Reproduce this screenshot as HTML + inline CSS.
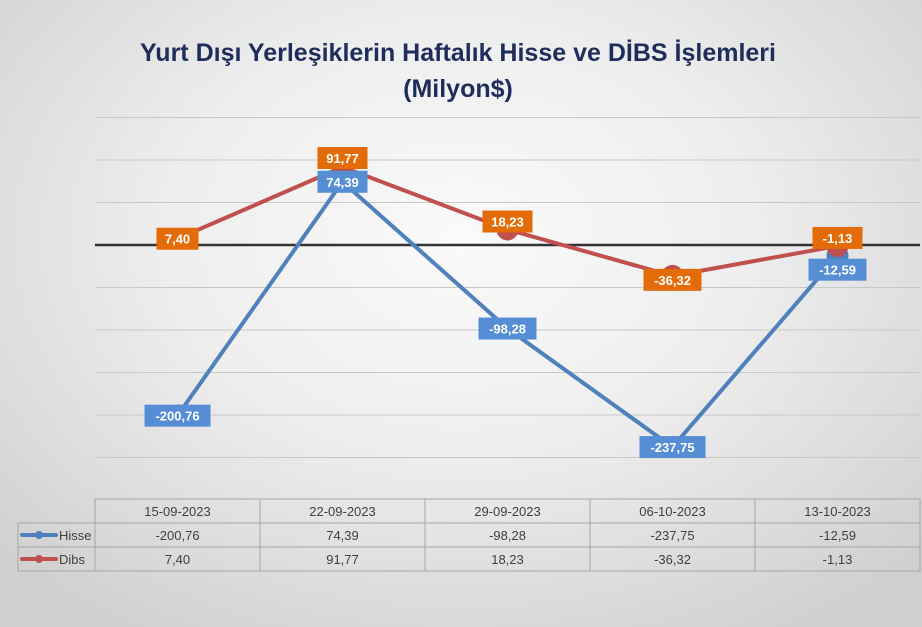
<!DOCTYPE html>
<html><head><meta charset="utf-8">
<style>
html,body{margin:0;padding:0}
body{width:922px;height:627px;overflow:hidden;font-family:"Liberation Sans",sans-serif;
background:radial-gradient(ellipse 70% 75% at 50% 38%,#fafafa 0%,#eeeeee 45%,#cfcfcf 100%);}
svg{display:block}
</style></head>
<body>
<svg width="922" height="627" xmlns="http://www.w3.org/2000/svg" id="chart">
<text x="458" y="61" text-anchor="middle" font-family="Liberation Sans, sans-serif" font-weight="bold" font-size="25" fill="#1f2d5c">Yurt Dışı Yerleşiklerin Haftalık Hisse ve DİBS İşlemleri</text>
<text x="458" y="97" text-anchor="middle" font-family="Liberation Sans, sans-serif" font-weight="bold" font-size="25" fill="#1f2d5c">(Milyon$)</text>
<g id="grid"></g><g id="lines"></g><g id="labels"></g><g id="table"></g>
</svg>
<script>
const categories=["15-09-2023","22-09-2023","29-09-2023","06-10-2023","13-10-2023"];
const hisse=[-200.76,74.39,-98.28,-237.75,-12.59];
const dibs=[7.40,91.77,18.23,-36.32,-1.13];
const gridTicks=[150,100,50,0,-50,-100,-150,-200,-250];
const NS="http://www.w3.org/2000/svg";
const x0=95,x1=920,bw=(x1-x0)/categories.length;
const xs=i=>x0+bw*(i+0.5);
const ys=v=>245-v*0.85;
function mk(t,a,p){const e=document.createElementNS(NS,t);for(const k in a)e.setAttribute(k,a[k]);p.appendChild(e);return e;}
const fmt=v=>v.toFixed(2).replace('.',',');
const g=document.getElementById('grid');
gridTicks.forEach(t=>{const l=mk('line',{x1:x0,x2:x1,y1:ys(t),y2:ys(t),stroke:t===0?'#333':'#c8c8c8','stroke-width':t===0?2.5:1},g);

});
const L=document.getElementById('lines'),Lb=document.getElementById('labels');
function series(vals,color,lblColor,name,offs){
 const pl=mk('polyline',{points:vals.map((v,i)=>xs(i)+','+ys(v)).join(' '),fill:'none',stroke:color,'stroke-width':4,'stroke-linejoin':'round'},L);
 
 
 vals.forEach((v,i)=>{
  const c=mk('circle',{cx:xs(i),cy:ys(v),r:11,fill:color},L);
  
  
  const s=fmt(v),w=s.length*8+10,cy=ys(v)+(offs[i]||0);
  const r=mk('rect',{x:xs(i)-w/2,y:cy-11,width:w,height:22,fill:lblColor},Lb);
  
  
  const t=mk('text',{x:xs(i),y:cy+5,'text-anchor':'middle','font-size':13,'font-weight':'bold',fill:'#fff'},Lb);
  t.textContent=s;
  
  
 });
}
series(hisse,'#4f81bd','#558ed5','hisse',[0,0,0,0,14]);
series(dibs,'#c0504d','#e36c09','dibs',[0,-9,-8,4,-8]);
const T=document.getElementById('table');
const tableTop=499,rh=24;
function cell(x,y,w,h){const r=mk('rect',{x,y,width:w,height:h,fill:'none',stroke:'#a6a6a6','stroke-width':1},T);
}
function txt(x,y,s,anchor){const t=mk('text',{x,y,'text-anchor':anchor||'middle','font-size':13,fill:'#404040'},T);t.textContent=s;
}
categories.forEach((c,i)=>{cell(x0+bw*i,tableTop,bw,rh);txt(xs(i),tableTop+17,c);
 cell(x0+bw*i,tableTop+rh,bw,rh);txt(xs(i),tableTop+rh+17,fmt(hisse[i]));
 cell(x0+bw*i,tableTop+2*rh,bw,rh);txt(xs(i),tableTop+2*rh+17,fmt(dibs[i]));});
cell(18,tableTop+rh,77,rh);cell(18,tableTop+2*rh,77,rh);
[['Hisse','#4f81bd',tableTop+rh],['Dibs','#c0504d',tableTop+2*rh]].forEach(([n,col,y])=>{
 const l=mk('line',{x1:22,x2:56,y1:y+12,y2:y+12,stroke:col,'stroke-width':4,'stroke-linecap':'round'},T);
 
 const c=mk('circle',{cx:39,cy:y+12,r:4,fill:col},T);
 
 txt(59,y+17,n,'start');});
</script>
</body></html>
